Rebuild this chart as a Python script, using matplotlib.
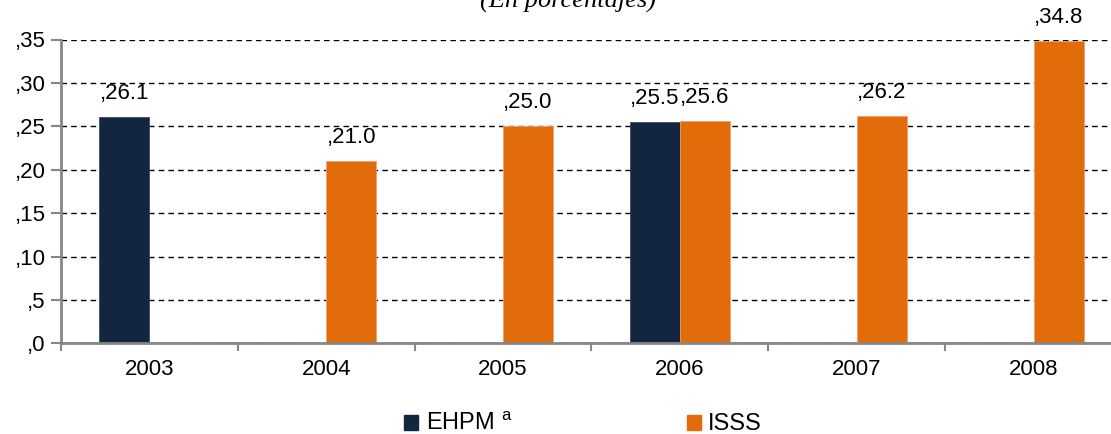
import matplotlib
matplotlib.use("Agg")
import matplotlib.pyplot as plt
import matplotlib.patches as patches
import numpy as np

plt.rcParams["font.family"] = ["Liberation Sans", "DejaVu Sans"]
plt.rcParams["mathtext.fontset"] = "custom"
plt.rcParams["mathtext.rm"] = "Liberation Sans"

# datos
years = ["2003", "2004", "2005", "2006", "2007", "2008"]
ehpm = [26.1, None, None, 25.5, None, None]
isss = [None, 21.0, 25.0, 25.6, 26.2, 34.8]
yticks = [0, 5, 10, 15, 20, 25, 30, 35]

navy = "#13263f"
orange = "#e36c0a"
gray = "#868686"

fig = plt.figure(figsize=(11.11, 4.34), dpi=100)
# el eje sigue un poco más allá del borde derecho
ax = fig.add_axes([61 / 1111, 1 - 343.3 / 434, 1061 / 1111, (343.3 - 39.5) / 434])

x = np.arange(len(years))
w = 0.283

for i in range(len(years)):
    if ehpm[i] is not None:
        ax.bar(x[i] - w / 2, ehpm[i], w, color=navy, edgecolor="#3a4a60", linewidth=0.6, zorder=3)
        ax.annotate(",%.1f" % ehpm[i], (x[i] - w / 2, ehpm[i]), xytext=(0, 9.5),
                    textcoords="offset points", ha="center", va="bottom", fontsize=16)
    if isss[i] is not None:
        ax.bar(x[i] + w / 2, isss[i], w, color=orange, edgecolor="#f0a070", linewidth=0.6, zorder=3)
        ax.annotate(",%.1f" % isss[i], (x[i] + w / 2, isss[i]), xytext=(0, 9.5),
                    textcoords="offset points", ha="center", va="bottom", fontsize=16)

ax.set_xlim(-0.5, len(years) - 0.5)
ax.set_ylim(0, 35)
ax.set_yticks(yticks)
ax.set_yticklabels([",%d" % v for v in yticks], fontsize=16)
ax.set_xticks(x)
ax.set_xticklabels(years, fontsize=16)
ax.set_xticks(np.arange(-0.5, len(years)), minor=True)
ax.tick_params(axis="x", which="major", length=0, pad=11)
ax.tick_params(axis="x", which="minor", length=6, width=1.5, color=gray, direction="out")
ax.tick_params(axis="y", length=7, width=1.5, color=gray, pad=4)

ax.yaxis.grid(True, linestyle=(0, (4, 3)), color="black", linewidth=1, zorder=0)
ax.set_axisbelow(True)
for s in ["top", "right"]:
    ax.spines[s].set_visible(False)
for s in ["left", "bottom"]:
    ax.spines[s].set_color(gray)
    ax.spines[s].set_linewidth(2)
    ax.spines[s].set_zorder(4)

# título cortado arriba
fig.text(568 / 1111, 1 - 8 / 434, "(En porcentajes)", ha="center", va="baseline",
         fontsize=19, style="italic", family=["Liberation Serif", "DejaVu Serif"])

handles = [patches.Patch(color=navy), patches.Patch(color=orange)]
fig.legend(handles, ["EHPM $^{\\rm a}$", "ISSS"], loc="center", bbox_to_anchor=(583 / 1111, 1 - 424 / 434),
           ncol=2, frameon=False, fontsize=17, handlelength=0.6, handleheight=0.6,
           handletextpad=0.3, columnspacing=7.4)

fig.savefig("out.png", dpi=100)
